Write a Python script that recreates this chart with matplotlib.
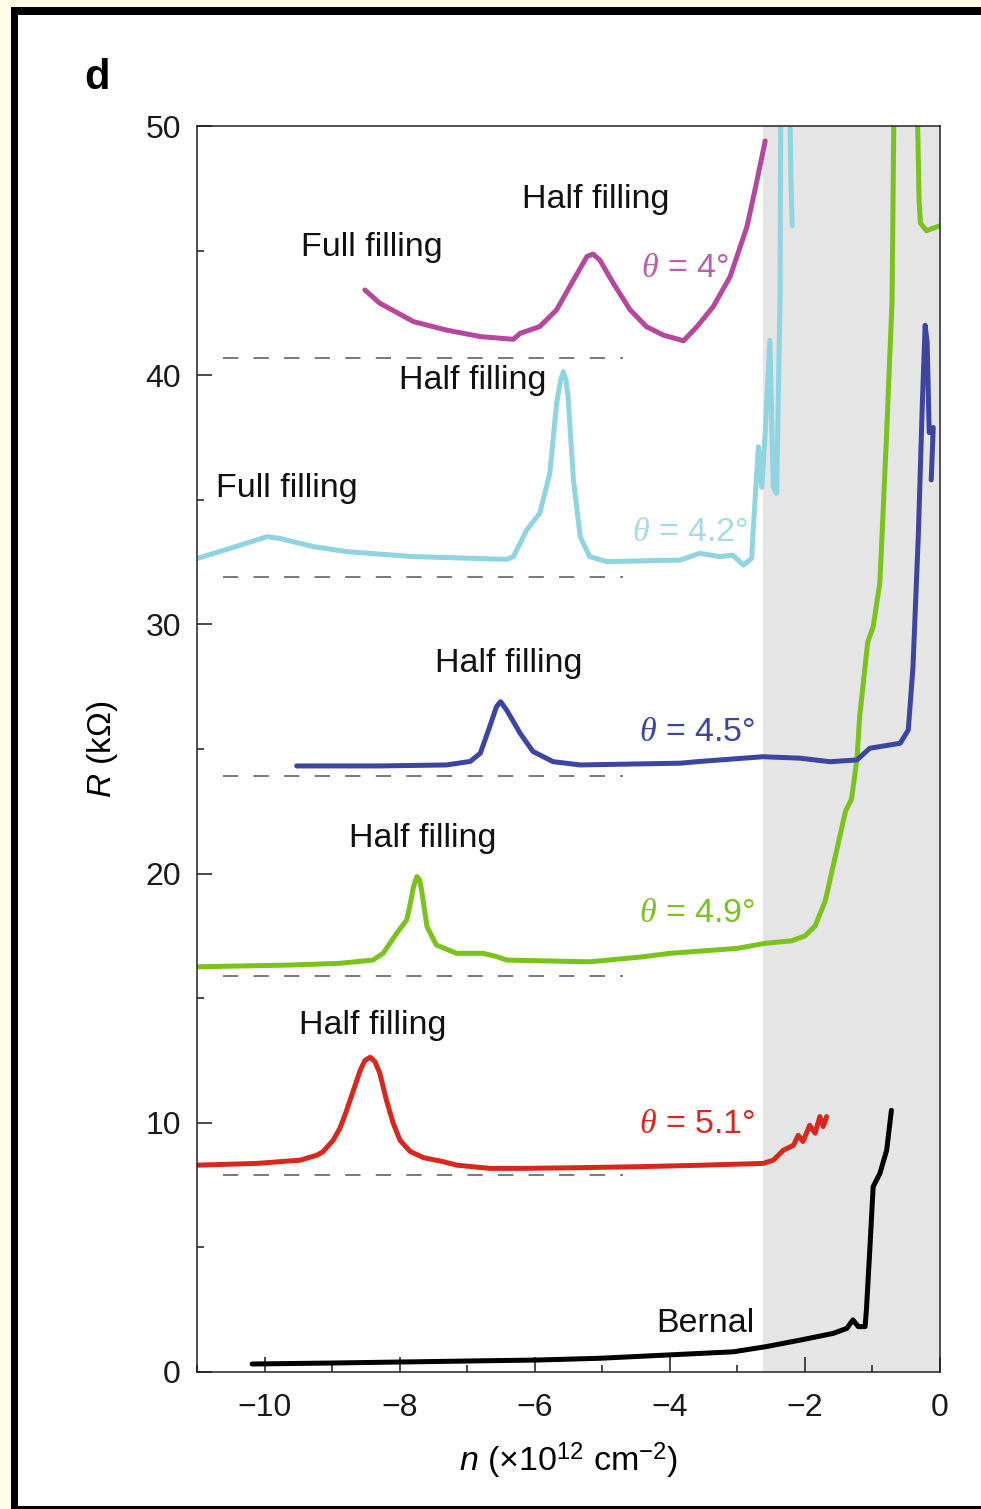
import numpy as np
import matplotlib.pyplot as plt
from matplotlib.patches import Rectangle
from matplotlib.ticker import MultipleLocator

plt.rcParams['font.family'] = ['Liberation Sans', 'DejaVu Sans']
plt.rcParams['mathtext.fontset'] = 'custom'
plt.rcParams['mathtext.rm'] = 'Liberation Sans'
plt.rcParams['mathtext.it'] = 'Liberation Serif:italic'
plt.rcParams['mathtext.sf'] = 'Liberation Sans:italic'

# R(n) traces, offset vertically by twist angle
n_bernal = [-10.19, -9.0, -8.0, -7.0, -5.96, -5.04, -4.05, -3.06, -2.57, -2.07, -1.58,
            -1.38, -1.29, -1.21, -1.11, -1.09, -1.04, -0.99, -0.89, -0.79, -0.72]
R_bernal = [0.32, 0.36, 0.40, 0.44, 0.48, 0.55, 0.68, 0.81, 1.02, 1.28, 1.55,
            1.75, 2.09, 1.82, 1.82, 2.49, 4.9, 7.44, 7.97, 8.9, 10.5]

n_51 = [-11.0, -10.12, -9.48, -9.23, -9.14, -8.99, -8.89, -8.79, -8.69, -8.59, -8.52,
        -8.44, -8.37, -8.30, -8.20, -8.10, -8.0, -7.85, -7.65, -7.36, -7.16, -6.67,
        -6.18, -5.3, -4.44, -3.5, -2.62, -2.47, -2.32, -2.17, -2.10, -2.03, -1.93,
        -1.85, -1.78, -1.73, -1.68]
R_51 = [8.30, 8.37, 8.5, 8.7, 8.84, 9.3, 9.78, 10.5, 11.3, 12.1, 12.5,
        12.63, 12.45, 12.0, 10.9, 9.98, 9.3, 8.85, 8.6, 8.44, 8.3, 8.17,
        8.17, 8.2, 8.24, 8.3, 8.37, 8.5, 8.9, 9.1, 9.5, 9.25, 9.9,
        9.58, 10.25, 9.85, 10.25]

n_49 = [-11.0, -9.63, -8.89, -8.40, -8.25, -8.05, -7.90, -7.84, -7.80, -7.75, -7.71,
        -7.68, -7.60, -7.46, -7.16, -6.77, -6.57, -6.42, -5.19, -4.44, -4.0, -3.0,
        -2.6, -2.2, -2.0, -1.85, -1.7, -1.6, -1.5, -1.4, -1.31, -1.23, -1.19, -1.07,
        -0.99, -0.89, -0.79, -0.71, -0.685, -0.6, -0.45, -0.36, -0.33, -0.31, -0.29,
        -0.2, -0.1, 0.0]
R_49 = [16.26, 16.33, 16.4, 16.53, 16.8, 17.6, 18.14, 18.9, 19.47, 19.88, 19.75,
        19.34, 17.87, 17.13, 16.8, 16.8, 16.67, 16.53, 16.46, 16.65, 16.8, 17.0,
        17.2, 17.3, 17.5, 17.9, 18.9, 20.1, 21.3, 22.5, 23.0, 24.6, 26.3, 29.3,
        29.9, 31.7, 37.7, 43.0, 50.0, 58.0, 60.0, 56.0, 50.0, 47.0, 46.1,
        45.8, 45.9, 46.0]

n_45 = [-9.53, -8.30, -7.31, -6.96, -6.81, -6.67, -6.57, -6.51, -6.42, -6.32, -6.22,
        -6.03, -5.73, -5.33, -3.85, -3.56, -2.62, -2.07, -1.63, -1.23, -1.04, -0.59,
        -0.47, -0.40, -0.32, -0.26, -0.22, -0.19, -0.16, -0.10, -0.13]
R_45 = [24.32, 24.32, 24.36, 24.5, 24.83, 25.9, 26.7, 26.9, 26.56, 26.1, 25.63,
        24.9, 24.49, 24.36, 24.43, 24.5, 24.69, 24.63, 24.49, 24.56, 25.03, 25.23,
        25.76, 28.3, 33.65, 39.0, 42.0, 41.3, 37.7, 37.9, 35.8]

n_42 = [-11.0, -10.52, -9.97, -9.78, -9.28, -8.79, -7.80, -6.42, -6.32, -6.12, -5.93,
        -5.78, -5.68, -5.62, -5.58, -5.54, -5.51, -5.43, -5.33, -5.19, -4.94, -3.85,
        -3.56, -3.26, -3.07, -2.91, -2.79, -2.77, -2.69, -2.64, -2.59, -2.52, -2.47,
        -2.42, -2.37, -2.36, -2.30, -2.23, -2.21, -2.19]
R_42 = [32.65, 33.05, 33.52, 33.45, 33.12, 32.92, 32.72, 32.61, 32.72, 33.8, 34.46,
        36.06, 38.87, 39.8, 40.14, 39.8, 39.14, 35.79, 33.52, 32.72, 32.52, 32.58,
        32.85, 32.72, 32.78, 32.38, 32.65, 33.65, 37.13, 35.5, 37.67, 41.4, 35.5,
        35.26, 43.0, 50.0, 58.0, 52.0, 48.0, 46.0]

n_40 = [-8.52, -8.30, -7.80, -7.31, -6.81, -6.32, -6.22, -5.93, -5.68, -5.43, -5.23,
        -5.14, -5.04, -4.84, -4.59, -4.35, -4.10, -3.80, -3.60, -3.36, -3.11, -2.86,
        -2.72, -2.59]
R_40 = [43.42, 42.89, 42.15, 41.81, 41.55, 41.44, 41.68, 41.95, 42.62, 43.82, 44.76,
        44.86, 44.62, 43.69, 42.62, 41.95, 41.61, 41.38, 41.95, 42.75, 43.95, 45.96,
        47.7, 49.4]

# zero-resistance reference for each offset trace
baselines = [7.9, 15.9, 23.9, 31.9, 40.7]
baseline_span = (-10.62, -4.70)
gap_edge = -2.62

traces = [
    (n_bernal, R_bernal, 'black'),
    (n_51, R_51, '#d8281e'),
    (n_49, R_49, '#79c31c'),
    (n_45, R_45, '#3d45a3'),
    (n_42, R_42, '#8fd4e0'),
    (n_40, R_40, '#b6479f'),
]

angle_labels = [r'$\theta$ = 5.1°', r'$\theta$ = 4.9°', r'$\theta$ = 4.5°',
                r'$\theta$ = 4.2°', r'$\theta$ = 4°']
angle_colors = ['#d8281e', '#79c31c', '#3d45a3', '#a6dbe5', '#bf5dab']
angle_pos = [(-3.60, 9.95), (-3.60, 18.38), (-3.60, 25.68), (-3.70, 33.67), (-3.78, 44.3)]

filling_labels = ['Half filling', 'Half filling', 'Half filling', 'Half filling',
                  'Full filling', 'Half filling', 'Full filling', 'Bernal']
filling_pos = [(-8.40, 13.92), (-7.67, 21.39), (-6.39, 28.45), (-6.92, 39.8),
               (-9.67, 35.47), (-5.10, 47.07), (-8.41, 45.14), (-3.48, 1.93)]

fig = plt.figure(figsize=(9.81, 15.09), dpi=100)
fig.patch.set_facecolor('#fffbe5')
fig.patches.append(Rectangle((11 / 981, -0.01), 1.0, 1.01 - 7 / 1509,
                             transform=fig.transFigure, facecolor='black', zorder=-2))
fig.patches.append(Rectangle((18 / 981, 3 / 1509), 1.0, 1 - 18 / 1509,
                             transform=fig.transFigure, facecolor='white', zorder=-1))

ax = fig.add_axes([0.2013, 0.0908, 0.7569, 0.8257])
ax.set_xlim(-11, 0)
ax.set_ylim(0, 50)

ax.axvspan(gap_edge, 0, color='#e5e5e5', lw=0, zorder=0)
for b in baselines:
    ax.plot(baseline_span, [b, b], color='#555555', lw=1.1,
            dashes=(10, 10), zorder=1)

for n, R, c in traces:
    ax.plot(n, R, color=c, lw=3.6, solid_joinstyle='round',
            solid_capstyle='round', zorder=2)

for txt, (x, y), c in zip(angle_labels, angle_pos, angle_colors):
    ax.text(x, y, txt, color=c, fontsize=24.5, ha='center', va='center', zorder=3)
for txt, (x, y) in zip(filling_labels, filling_pos):
    ax.text(x, y, txt, color='#111111', fontsize=24.5, ha='center', va='center', zorder=3)

ax.xaxis.set_major_locator(MultipleLocator(2))
ax.xaxis.set_minor_locator(MultipleLocator(1))
ax.yaxis.set_major_locator(MultipleLocator(10))
ax.yaxis.set_minor_locator(MultipleLocator(5))
ax.tick_params(which='both', direction='in', width=1.1, labelsize=23,
               top=False, right=False, colors='#1a1a1a')
ax.tick_params(which='major', length=11)
ax.tick_params(which='minor', length=5)
ax.tick_params(axis='x', pad=15)
ax.tick_params(axis='y', pad=12)
for s in ax.spines.values():
    s.set_linewidth(1.1)
    s.set_color('#222222')

ax.set_xlabel(r'$\mathsf{n}$ (×10$^{12}$ cm$^{-2}$)', fontsize=24.5, labelpad=13)
ax.set_ylabel(r'$\mathsf{R}$ (kΩ)', fontsize=24, labelpad=18)

fig.text(97 / 981, 1 - 78 / 1509, 'd', fontsize=30, fontweight='bold',
         ha='center', va='center')

fig.savefig('out.png', dpi=100)
